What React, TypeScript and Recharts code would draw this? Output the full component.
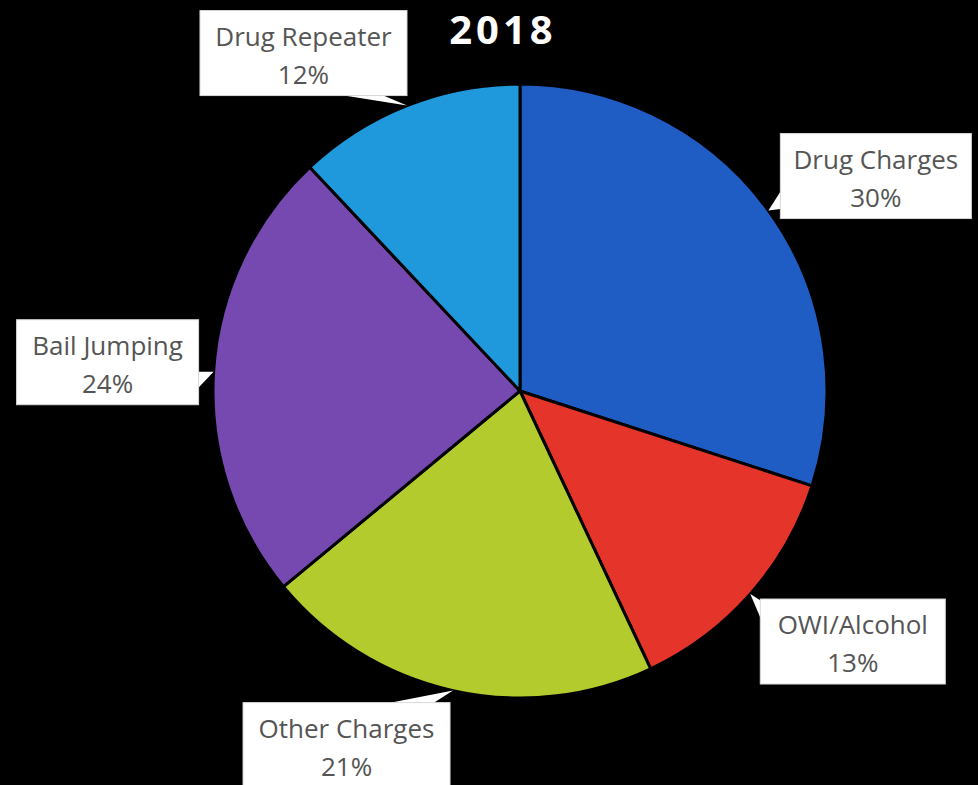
import { PieChart, Pie, Cell } from "recharts"

const categories = ["Drug Charges", "OWI/Alcohol", "Other Charges", "Bail Jumping", "Drug Repeater"]
const shares = [30, 13, 21, 24, 12]
const colors = ["#1f5cc4", "#e5342a", "#b3cb2d", "#7549b0", "#1f98dc"]

const data = categories.map((name, i) => ({ name, value: shares[i] }))

// callout boxes, offsets from the point where the pointer touches the pie
const callouts: Record<string, { box: number[]; base: number[][] }> = {
  "Drug Charges": { box: [12, -77, 191, 85], base: [[16, -25], [16, -2]] },
  "OWI/Alcohol": { box: [10, 5, 185, 85], base: [[14, 9], [14, 33]] },
  "Other Charges": { box: [-210, 12, 207, 85], base: [[-82, 16], [-25, 16]] },
  "Bail Jumping": { box: [-197, -52, 182, 85], base: [[-19, 0], [-19, 20]] },
  "Drug Repeater": { box: [-207, -95, 207, 85], base: [[-88, -14], [-33, -14]] },
}

const RADIAN = Math.PI / 180

const renderCallout = (props: any) => {
  const { cx, cy, midAngle, outerRadius, name, value } = props
  const tx = cx + outerRadius * Math.cos(-midAngle * RADIAN)
  const ty = cy + outerRadius * Math.sin(-midAngle * RADIAN)
  const c = callouts[name]
  if (!c) return null
  const [bx, by, bw, bh] = c.box
  const left = tx + bx
  const top = ty + by
  const mid = left + bw / 2
  return (
    <g>
      <polygon
        points={`${tx},${ty} ${tx + c.base[0][0]},${ty + c.base[0][1]} ${tx + c.base[1][0]},${ty + c.base[1][1]}`}
        fill="#ffffff"
      />
      <rect x={left} y={top} width={bw} height={bh} fill="#ffffff" stroke="#d8d8d8" strokeWidth={1} />
      <text x={mid} y={top + 35} textAnchor="middle" fill="#555" fontSize={26} fontFamily="'Open Sans', sans-serif">
        {name}
      </text>
      <text x={mid} y={top + 73} textAnchor="middle" fill="#555" fontSize={26} fontFamily="'Open Sans', sans-serif">
        {value}%
      </text>
    </g>
  )
}

export default function App() {
  return (
    <div style={{ position: "absolute", left: 0, top: 0, width: 978, height: 785, background: "#000", overflow: "hidden" }}>
      <PieChart width={978} height={785} margin={{ top: 0, right: 0, bottom: 0, left: 0 }}>
        <text
          x={503}
          y={44}
          textAnchor="middle"
          fill="#ffffff"
          fontSize={40}
          fontWeight={700}
          letterSpacing={4}
          fontFamily="'Open Sans', sans-serif"
        >
          2018
        </text>
        <Pie
          data={data}
          dataKey="value"
          nameKey="name"
          cx={520}
          cy={391}
          outerRadius={307}
          startAngle={90}
          endAngle={-270}
          stroke="#000"
          strokeWidth={3}
          label={renderCallout}
          labelLine={false}
          isAnimationActive={false}
        >
          {data.map((d, i) => (
            <Cell key={d.name} fill={colors[i]} />
          ))}
        </Pie>
      </PieChart>
    </div>
  )
}
